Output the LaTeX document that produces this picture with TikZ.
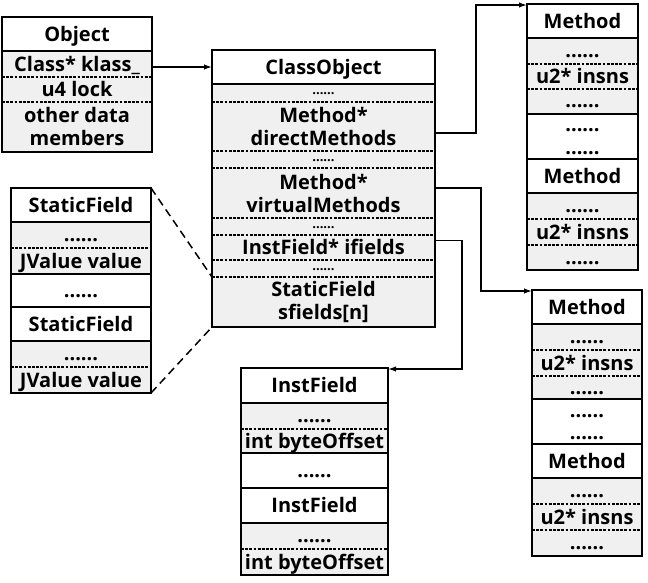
\documentclass[tikz,border=0pt]{standalone}
\usepackage{fontspec}
\setmainfont{Open Sans}
\usetikzlibrary{arrows.meta}
\definecolor{cellgray}{RGB}{240,240,240}
\newcommand\RowCell[7]{\node[#1, minimum width=#5pt, minimum height=#6pt] (#2) at (#3,#4) {#7};}
\newcommand\SolSep[1]{\draw[solidsep] (#1.south west) -- (#1.south east);}
\newcommand\DashSep[1]{\draw[dashsep] (#1.south west) -- (#1.south east);}
\tikzset{
 base/.style={inner sep=0pt, outer sep=0pt, anchor=north west, font=\fontsize{20}{23}\selectfont\bfseries},
 hdr/.style={base, fill=white, text height=14.3pt, text depth=0pt},
 txt/.style={base, fill=cellgray, text height=14.3pt, text depth=0pt},
 txtb/.style={base, fill=cellgray, align=center},
 dots/.style={base, fill=cellgray, text height=15pt, text depth=2pt},
 wdots/.style={dots, fill=white},
 sdots/.style={base, fill=cellgray, font=\fontsize{13}{15}\selectfont\bfseries, text height=5pt, text depth=1pt},
 solidsep/.style={line width=1.6pt},
 dashsep/.style={line width=1.1pt, dash pattern=on 2.8pt off 1.4pt},
 outer/.style={line width=1.9pt},
 conn/.style={line width=1.5pt, -{Latex[length=8pt,width=5.5pt]}},
 zoomline/.style={line width=1.5pt, dash pattern=on 8pt off 5pt},
}
\begin{document}
\begin{tikzpicture}[x=1pt,y=-1pt]
\useasboundingbox (0,0) rectangle (648,583);
% Object
\RowCell{hdr}{objH}{2}{17}{150}{34}{Object}
\RowCell{txt}{objA}{2}{51}{150}{26}{Class* klass\_}
\RowCell{txt}{objB}{2}{77}{150}{25}{u4 lock}
\RowCell{txtb}{objC}{2}{102}{150}{50}{other data\\members}
\SolSep{objH}\DashSep{objA}\DashSep{objB}
\draw[outer] (objH.north west) rectangle (objC.south east);
% ClassObject
\RowCell{hdr}{coH}{212}{50}{223}{34}{ClassObject}
\RowCell{sdots}{co1}{212}{84}{223}{18}{......}
\RowCell{txtb}{co2}{212}{102}{223}{49}{Method*\\directMethods}
\RowCell{sdots}{co3}{212}{151}{223}{17}{......}
\RowCell{txtb}{co4}{212}{168}{223}{50}{Method*\\virtualMethods}
\RowCell{sdots}{co5}{212}{218}{223}{17}{......}
\RowCell{txt}{co6}{212}{235}{223}{25}{InstField* ifields}
\RowCell{sdots}{co7}{212}{260}{223}{17}{......}
\RowCell{txtb}{co8}{212}{277}{223}{50}{StaticField\\sfields[n]}
\SolSep{coH}\DashSep{co1}\DashSep{co2}\DashSep{co3}\DashSep{co4}\DashSep{co5}\DashSep{co6}\DashSep{co7}
\draw[outer] (coH.north west) rectangle (co8.south east);
% Method box 1
\RowCell{hdr}{m1H}{527}{4}{111}{34}{Method}
\RowCell{dots}{m1a}{527}{38}{111}{26}{......}
\RowCell{txt}{m1b}{527}{64}{111}{25}{u2* insns}
\RowCell{dots}{m1c}{527}{89}{111}{25}{......}
\RowCell{wdots}{m1d}{527}{114}{111}{23}{......}
\RowCell{wdots}{m1e}{527}{137}{111}{22}{......}
\RowCell{hdr}{m1F}{527}{159}{111}{34}{Method}
\RowCell{dots}{m1g}{527}{193}{111}{26}{......}
\RowCell{txt}{m1h}{527}{219}{111}{26}{u2* insns}
\RowCell{dots}{m1i}{527}{245}{111}{25}{......}
\SolSep{m1H}\DashSep{m1a}\DashSep{m1b}\SolSep{m1c}\SolSep{m1e}\SolSep{m1F}\DashSep{m1g}\DashSep{m1h}
\draw[outer] (m1H.north west) rectangle (m1i.south east);
% Method box 2
\RowCell{hdr}{m2H}{532}{290}{110}{34}{Method}
\RowCell{dots}{m2a}{532}{324}{110}{26}{......}
\RowCell{txt}{m2b}{532}{350}{110}{26}{u2* insns}
\RowCell{dots}{m2c}{532}{376}{110}{23}{......}
\RowCell{wdots}{m2d}{532}{399}{110}{23}{......}
\RowCell{wdots}{m2e}{532}{422}{110}{22}{......}
\RowCell{hdr}{m2F}{532}{444}{110}{34}{Method}
\RowCell{dots}{m2g}{532}{478}{110}{26}{......}
\RowCell{txt}{m2h}{532}{504}{110}{26}{u2* insns}
\RowCell{dots}{m2i}{532}{530}{110}{26}{......}
\SolSep{m2H}\DashSep{m2a}\DashSep{m2b}\SolSep{m2c}\SolSep{m2e}\SolSep{m2F}\DashSep{m2g}\DashSep{m2h}
\draw[outer] (m2H.north west) rectangle (m2i.south east);
% StaticField
\RowCell{hdr}{sfH}{11}{188}{140}{34}{StaticField}
\RowCell{dots}{sfa}{11}{222}{140}{26}{......}
\RowCell{txt}{sfb}{11}{248}{140}{26}{JValue value}
\RowCell{wdots}{sfc}{11}{274}{140}{33}{......}
\RowCell{hdr}{sfF}{11}{307}{140}{34}{StaticField}
\RowCell{dots}{sfd}{11}{341}{140}{26}{......}
\RowCell{txt}{sfe}{11}{367}{140}{26}{JValue value}
\SolSep{sfH}\DashSep{sfa}\SolSep{sfb}\SolSep{sfc}\SolSep{sfF}\DashSep{sfd}
\draw[outer] (sfH.north west) rectangle (sfe.south east);
% InstField
\RowCell{hdr}{ifH}{241}{368}{147}{35}{InstField}
\RowCell{dots}{ifa}{241}{403}{147}{26}{......}
\RowCell{txt}{ifb}{241}{429}{147}{24}{int byteOffset}
\RowCell{wdots}{ifc}{241}{453}{147}{35}{......}
\RowCell{hdr}{ifF}{241}{488}{147}{35}{InstField}
\RowCell{dots}{ifd}{241}{523}{147}{26}{......}
\RowCell{txt}{ife}{241}{549}{147}{26}{int byteOffset}
\SolSep{ifH}\DashSep{ifa}\SolSep{ifb}\SolSep{ifc}\SolSep{ifF}\DashSep{ifd}
\draw[outer] (ifH.north west) rectangle (ife.south east);
% connectors
\draw[conn] (objA.east |- coH.west) -- (coH.west);
\draw[conn] ([yshift=-6.5pt]co2.east) -- ++(41,0) |- ([yshift=-1pt]m1H.north west);
\draw[conn] ([yshift=5pt]co4.east) -- ++(46,0) |- ([yshift=-1pt]m2H.north west);
\draw[conn] ([yshift=7pt]co6.east) -- ++(27,0) |- ([yshift=-1pt]ifH.north east);
\draw[zoomline] (sfH.north east) -- (co8.north west);
\draw[zoomline] (sfe.south east) -- (co8.south west);
\end{tikzpicture}
\end{document}
